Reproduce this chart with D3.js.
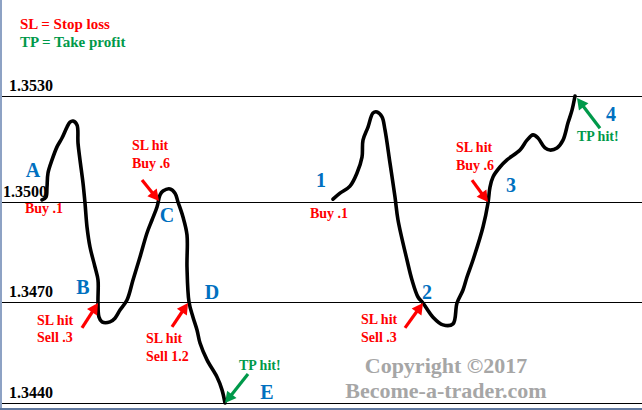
<!DOCTYPE html>
<html>
<head>
<meta charset="utf-8">
<script src="https://cdn.jsdelivr.net/npm/d3@7"></script>
<style>
html,body{margin:0;padding:0;background:#fff;}
svg{display:block;}
text{font-family:"Liberation Serif","Times New Roman",serif;font-weight:bold;}
</style>
</head>
<body>
<svg id="chart" width="642" height="410"></svg>
<script>
// ---- data ----
const priceTicks = [1.3530, 1.3500, 1.3470, 1.3440];
const tickLabels = ["1.3530", "1.3500", "1.3470", "1.3440"];

// first trade (A..E): time index and price
const times1 = [4.2,4.6,4.7,4.8,5.2,5.7,6.2,6.7,7.0,7.3,7.7,7.8,8.0,8.3,8.5,8.7,9.0,9.5,9.8,9.8,9.9,10.2,11.0,11.5,12.0,12.7,13.3,14.0,14.7,15.2,15.7,16.0,16.3,17.0,17.5,17.8,18.3,18.7,18.7,18.9,19.3,19.7,20.0,20.7,21.7,22.2,22.5];
const prices1 = [1.35006,1.35014,1.35042,1.35082,1.35119,1.35156,1.35181,1.35212,1.35226,1.35229,1.35218,1.35167,1.35119,1.35054,1.34997,1.34925,1.34865,1.34805,1.34766,1.34700,1.34655,1.34641,1.34641,1.34652,1.34676,1.34706,1.34766,1.34835,1.34907,1.34946,1.34985,1.35020,1.35031,1.35037,1.35025,1.35000,1.34955,1.34901,1.34805,1.34700,1.34655,1.34617,1.34578,1.34528,1.34477,1.34439,1.34400];

// second trade (1..4)
const times2 = [33.3,34.0,35.0,35.7,36.2,36.3,36.8,37.3,37.7,38.2,38.5,39.0,39.5,39.8,40.7,41.2,41.8,42.3,43.3,44.3,45.3,45.7,46.3,46.7,47.3,48.3,48.8,49.0,49.3,50.0,50.7,52.0,52.7,53.3,53.8,54.5,55.0,55.7,56.3,56.8,57.2,57.5];
const prices2 = [1.35008,1.35025,1.35045,1.35082,1.35127,1.35175,1.35212,1.35252,1.35255,1.35241,1.35204,1.35110,1.35014,1.34946,1.34826,1.34766,1.34715,1.34697,1.34655,1.34632,1.34635,1.34697,1.34736,1.34775,1.34826,1.34925,1.34997,1.35042,1.35071,1.35099,1.35119,1.35147,1.35175,1.35190,1.35181,1.35153,1.35147,1.35153,1.35175,1.35224,1.35260,1.35300];

// point letters
const pointNames = ["A","B","C","D","E","1","2","3","4"];
const pointTimes = [3.3,8.3,16.7,21.2,26.7,32.1,42.7,51.1,61.1];
const pointPrices = [1.35071,1.34724,1.34940,1.34709,1.34412,1.35042,1.34709,1.35028,1.35229];

// note texts
const noteTexts = ["Buy .1","SL hit","Buy .6","SL hit","Sell .3","SL hit","Sell 1.2","TP hit!","Buy .1","SL hit","Buy .6","TP hit!","SL hit","Sell .3"];
const noteKinds = ["sl","sl","sl","sl","sl","sl","sl","tp","sl","sl","sl","tp","sl","sl"];
const noteTimes = [2.5,13.2,13.2,3.7,3.7,14.6,14.6,23.9,31.0,45.6,45.6,57.7,36.1,36.1];
const notePrices = [1.34967,1.35147,1.35096,1.34632,1.34581,1.34578,1.34525,1.34498,1.34952,1.35142,1.35091,1.35173,1.34635,1.34581];

// arrows: tail -> head
const arrowKinds = ["sl","sl","sl","tp","sl","sl","tp"];
const arrowTailT = [14.2,8.2,17.2,24.8,47.2,40.5,60.0];
const arrowTailP = [1.35062,1.34623,1.34626,1.34486,1.35062,1.34623,1.35209];
const arrowHeadT = [15.9,9.8,18.8,22.5,48.8,42.3,57.7];
const arrowHeadP = [1.35003,1.34697,1.34697,1.34400,1.35000,1.34697,1.35294];

const legendTexts = ["SL = Stop loss", "TP = Take profit"];
const copyrightTexts = ["Copyright \u00a92017", "Become-a-trader.com"];

// ---- drawing ----
const W = 642, H = 410;
const colors = {sl: "#ff0000", tp: "#00994a", pt: "#0070c0"};
const svg = d3.select("#chart");

const x = d3.scaleLinear().domain([0, 64.2]).range([0, W]);
const y = d3.scaleLinear().domain([1.3440, 1.3470, 1.3500, 1.3530]).range([403, 302, 202, 96]);

svg.append("rect").attr("width", W).attr("height", H).attr("fill", "#fff");

// horizontal price lines
svg.selectAll("line.grid").data(priceTicks).join("line")
  .attr("class", "grid")
  .attr("x1", 0).attr("x2", W)
  .attr("y1", d => Math.round(y(d)) + 0.5).attr("y2", d => Math.round(y(d)) + 0.5)
  .attr("stroke", "#000").attr("stroke-width", 1.2);

// tick labels
svg.selectAll("text.tick").data(priceTicks).join("text")
  .attr("class", "tick")
  .attr("x", (d, i) => i === 1 ? 3 : 9)
  .attr("y", d => y(d) - 5)
  .attr("font-size", 16)
  .attr("fill", "#000")
  .text((d, i) => tickLabels[i]);

// legend
svg.selectAll("text.legend").data(legendTexts).join("text")
  .attr("class", "legend")
  .attr("x", 20).attr("y", (d, i) => 29 + i * 18)
  .attr("font-size", 15)
  .attr("fill", (d, i) => i === 0 ? colors.sl : colors.tp)
  .text(d => d);

// copyright
svg.selectAll("text.copy").data(copyrightTexts).join("text")
  .attr("class", "copy")
  .attr("x", 446).attr("y", (d, i) => 373 + i * 25)
  .attr("text-anchor", "middle")
  .attr("font-size", 22)
  .attr("fill", "#a6a6a6")
  .text(d => d);

// price paths
const line = d3.line().x(d => x(d[0])).y(d => y(d[1])).curve(d3.curveCatmullRom.alpha(0.5));
[[times1, prices1], [times2, prices2]].forEach(([ts, ps]) => {
  svg.append("path")
    .datum(ts.map((t, i) => [t, ps[i]]))
    .attr("d", line)
    .attr("fill", "none")
    .attr("stroke", "#000")
    .attr("stroke-width", 3.6)
    .attr("stroke-linecap", "round")
    .attr("stroke-linejoin", "round");
});

// arrows
arrowKinds.forEach((k, i) => {
  const x1 = x(arrowTailT[i]), y1 = y(arrowTailP[i]);
  const x2 = x(arrowHeadT[i]), y2 = y(arrowHeadP[i]);
  const dx = x2 - x1, dy = y2 - y1, len = Math.hypot(dx, dy);
  const ux = dx / len, uy = dy / len;
  const hl = 11, hw = 6;
  const bx = x2 - ux * hl, by = y2 - uy * hl;
  const c = colors[k];
  svg.append("line")
    .attr("x1", x1).attr("y1", y1).attr("x2", bx + ux * 2).attr("y2", by + uy * 2)
    .attr("stroke", c).attr("stroke-width", 3.2).attr("stroke-linecap", "butt");
  svg.append("path")
    .attr("d", `M${x2},${y2}L${bx - uy * hw},${by + ux * hw}L${bx + uy * hw},${by - ux * hw}Z`)
    .attr("fill", c);
});

// notes
svg.selectAll("text.note").data(noteTexts).join("text")
  .attr("class", "note")
  .attr("x", (d, i) => x(noteTimes[i]))
  .attr("y", (d, i) => y(notePrices[i]))
  .attr("font-size", 14)
  .attr("fill", (d, i) => colors[noteKinds[i]])
  .text(d => d);

// point letters
svg.selectAll("text.pt").data(pointNames).join("text")
  .attr("class", "pt")
  .attr("x", (d, i) => x(pointTimes[i]))
  .attr("y", (d, i) => y(pointPrices[i]))
  .attr("text-anchor", "middle")
  .attr("font-size", 20)
  .attr("fill", colors.pt)
  .text(d => d);

// window frame edges
svg.append("rect").attr("x", 0).attr("y", 0).attr("width", 2).attr("height", H).attr("fill", "#8da2c4");
svg.append("rect").attr("x", 0).attr("y", 408).attr("width", W).attr("height", 2).attr("fill", "#60789e");
</script>
</body>
</html>
